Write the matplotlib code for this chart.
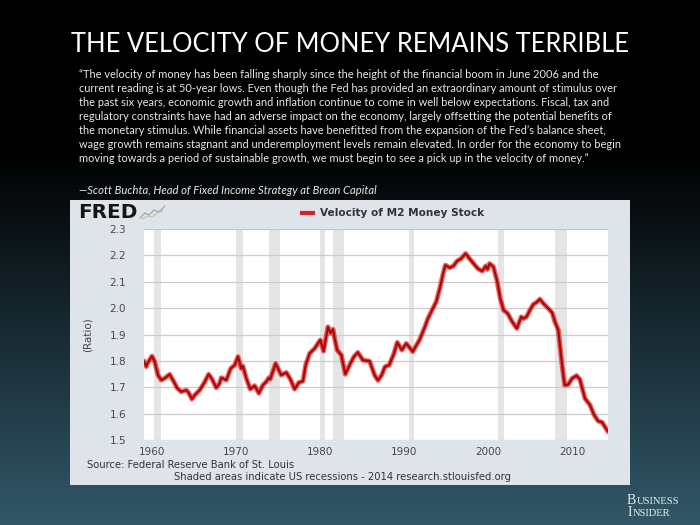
import numpy as np
import matplotlib
matplotlib.use('Agg')
import matplotlib.pyplot as plt
from matplotlib.transforms import Affine2D
from matplotlib.patches import Rectangle
from matplotlib.lines import Line2D

# ---------------- data ----------------
years = [1959.00, 1959.28, 1959.40, 1959.95, 1960.27, 1960.67, 1961.06, 1961.46, 1962.06, 1962.45,
         1962.97, 1963.44, 1964.04, 1964.30, 1964.71, 1965.03, 1965.63, 1966.14, 1966.70, 1967.10,
         1967.61, 1968.00, 1968.20, 1968.80, 1969.32, 1969.80, 1970.19, 1970.58, 1970.78, 1971.18,
         1971.65, 1972.17, 1972.68, 1973.15, 1973.56, 1973.87, 1974.03, 1974.67, 1975.35, 1975.94,
         1976.42, 1976.94, 1977.45, 1977.93, 1978.25, 1978.72, 1979.32, 1979.99, 1980.39, 1980.90,
         1981.20, 1981.50, 1981.70, 1982.00, 1982.50, 1982.97, 1983.48, 1984.00, 1984.46, 1985.06,
         1985.86, 1986.46, 1986.86, 1987.30, 1987.70, 1988.20, 1988.76, 1989.16, 1989.70, 1990.23,
         1991.00, 1991.80, 1992.40, 1992.80, 1993.40, 1993.80, 1994.27, 1994.67, 1994.90, 1995.40,
         1995.85, 1996.26, 1996.77, 1997.30, 1997.75, 1998.35, 1998.75, 1999.27, 1999.70, 1999.90,
         2000.15, 2000.60, 2001.02, 2001.42, 2001.82, 2002.30, 2002.85, 2003.40, 2003.92, 2004.15,
         2004.55, 2004.95, 2005.35, 2005.75, 2006.14, 2006.54, 2007.13, 2007.60, 2007.93, 2008.33,
         2008.65, 2008.93, 2009.10, 2009.50, 2009.99, 2010.50, 2010.90, 2011.50, 2012.10, 2012.60,
         2013.07, 2013.55, 2014.20]
velocity = [1.797, 1.778, 1.790, 1.818, 1.797, 1.746, 1.727, 1.734, 1.749, 1.727,
            1.696, 1.683, 1.689, 1.680, 1.655, 1.670, 1.689, 1.715, 1.749, 1.731,
            1.698, 1.715, 1.736, 1.727, 1.771, 1.784, 1.816, 1.771, 1.780, 1.734,
            1.693, 1.706, 1.677, 1.708, 1.721, 1.736, 1.731, 1.790, 1.746, 1.756,
            1.731, 1.693, 1.718, 1.723, 1.784, 1.828, 1.847, 1.879, 1.837, 1.929,
            1.905, 1.920, 1.885, 1.841, 1.822, 1.749, 1.784, 1.816, 1.832, 1.803,
            1.799, 1.746, 1.726, 1.746, 1.778, 1.784, 1.828, 1.870, 1.841, 1.866,
            1.835, 1.879, 1.925, 1.960, 1.999, 2.024, 2.081, 2.138, 2.163, 2.153,
            2.160, 2.178, 2.188, 2.207, 2.188, 2.165, 2.150, 2.140, 2.160, 2.147,
            2.169, 2.157, 2.106, 2.037, 1.992, 1.980, 1.948, 1.923, 1.967, 1.960,
            1.967, 1.992, 2.014, 2.022, 2.034, 2.018, 1.999, 1.983, 1.948, 1.917,
            1.822, 1.746, 1.708, 1.710, 1.734, 1.744, 1.730, 1.658, 1.633, 1.595,
            1.572, 1.567, 1.534]
recession_start = [1960.25, 1969.92, 1973.83, 1980.00, 1981.50, 1990.50, 2001.17, 2007.92]
recession_end = [1961.08, 1970.83, 1975.17, 1980.50, 1982.83, 1991.17, 2001.83, 2009.42]
x_ticks = [1960, 1970, 1980, 1990, 2000, 2010]
y_ticks = [1.5, 1.6, 1.7, 1.8, 1.9, 2.0, 2.1, 2.2, 2.3]

title = "THE VELOCITY OF MONEY REMAINS TERRIBLE"
quote_lines = [
    "\u201cThe velocity of money has been falling sharply since the height of the financial boom in June 2006 and the",
    "current reading is at 50-year lows. Even though the Fed has provided an extraordinary amount of stimulus over",
    "the past six years, economic growth and inflation continue to come in well below expectations. Fiscal, tax and",
    "regulatory constraints have had an adverse impact on the economy, largely offsetting the potential benefits of",
    "the monetary stimulus. While financial assets have benefitted from the expansion of the Fed\u2019s balance sheet,",
    "wage growth remains stagnant and underemployment levels remain elevated. In order for the economy to begin",
    "moving towards a period of sustainable growth, we must begin to see a pick up in the velocity of money.\u201d",
]
attribution = "\u2014Scott Buchta, Head of Fixed Income Strategy at Brean Capital"
series_name = "Velocity of M2 Money Stock"
source_text = "Source: Federal Reserve Bank of St. Louis"
note_text = "Shaded areas indicate US recessions - 2014 research.stlouisfed.org"

# ---------------- figure ----------------
W, H = 700, 525
fig = plt.figure(figsize=(7, 5.25), dpi=100)
px = Affine2D().scale(1 / W, -1 / H).translate(0, 1) + fig.transFigure
renderer = fig.canvas.get_renderer()


def fit(t, target):
    bb = t.get_window_extent(renderer)
    t.set_fontsize(t.get_fontsize() * target / bb.width)
    return t


# gradient background
bg = fig.add_axes([0, 0, 1, 1], zorder=-10)
rows = np.arange(H)
f = np.clip((rows - 150) / (H - 150), 0, 1)
bot = np.array([50, 88, 105]) / 255
grad = (f[:, None] * bot[None, :])[:, None, :] * np.ones((1, 2, 1))
bg.imshow(grad, aspect='auto', extent=[0, 1, 0, 1], origin='upper')
bg.axis('off')

# chart panel
fig.add_artist(Rectangle((70, 200), 560, 285, transform=px, facecolor='#dee4ea',
                         edgecolor='none', zorder=-5))

# title and quote
t = fig.text(350, 45, title, transform=px, ha='center', va='center', color='white',
             family='Lato', fontsize=20)
fit(t, 556)

qs = []
for i, line in enumerate(quote_lines):
    q = fig.text(79, 75 + 14 * i, line, transform=px, ha='left', va='center',
                 color='#e8e8e8', family='Lato', fontsize=9)
    qs.append(q)
bb = qs[5].get_window_extent(renderer)
qsize = 9 * 540 / bb.width
for q in qs:
    q.set_fontsize(qsize)

a = fig.text(79, 191, attribution, transform=px, ha='left', va='center', color='#e8e8e8',
             family='Lato', style='italic', fontsize=9)
fit(a, 297)

# FRED logo
fr = fig.text(78, 212, "FRED", transform=px, ha='left', va='center', color='#151515',
              family='DejaVu Sans', weight='heavy', fontsize=12)
fit(fr, 59)
fig.add_artist(Line2D([140, 145, 149, 154, 159, 165], [218, 213, 215, 210, 212, 206],
                      transform=px, color='#9aa48c', lw=0.8))
fig.add_artist(Line2D([142, 147, 152, 157, 163], [219, 216, 217, 213, 211],
                      transform=px, color='#b5bda9', lw=0.7))

# legend
fig.add_artist(Line2D([302, 313], [213, 213], transform=px, color='#d42424', lw=3))
lg = fig.text(320, 213, series_name, transform=px, ha='left', va='center', color='#333333',
              family='DejaVu Sans', weight='bold', fontsize=7)
fit(lg, 163)

# source texts
s1 = fig.text(87, 465, source_text, transform=px, ha='left', va='center', color='#333333',
              family='DejaVu Sans', fontsize=7)
fit(s1, 210)
s2 = fig.text(342, 477, note_text, transform=px, ha='center', va='center', color='#333333',
              family='DejaVu Sans', fontsize=7)
fit(s2, 339)

# y label
fig.text(88, 335, "(Ratio)", transform=px, ha='center', va='center', rotation=90,
         color='#444444', family='DejaVu Sans', fontsize=7.5)

# Business Insider logo (small caps)
def small_caps(x, y, word, big, small):
    t1 = fig.text(x, y, word[0], transform=px, ha='left', va='baseline', color='#e4ecef',
                  family='Liberation Serif', fontsize=big)
    w1 = t1.get_window_extent(renderer).width
    fig.text(x + w1 + 0.3, y, word[1:], transform=px, ha='left', va='baseline',
             color='#e4ecef', family='Liberation Serif', fontsize=small)

small_caps(627, 504, "BUSINESS", 10.0, 7.6)
small_caps(628, 516, "INSIDER", 10.0, 7.6)

# plot axes
left, right, top, bottom = 144, 608, 229, 440
ax = fig.add_axes([left / W, 1 - bottom / H, (right - left) / W, (bottom - top) / H])
ax.set_facecolor('white')
for sp in ax.spines.values():
    sp.set_visible(False)
for s, e in zip(recession_start, recession_end):
    ax.axvspan(s, e, color='#e5e5e5', lw=0, zorder=0.2)
ax.set_axisbelow(True)
ax.grid(axis='y', color='#cccccc', lw=0.9)
ax.plot(years, velocity, color='#ee1111', lw=3.6, alpha=0.65, solid_joinstyle='round', zorder=3)
ax.plot(years, velocity, color='#a30a0a', lw=1.6, solid_joinstyle='round', zorder=4)
ax.set_xlim(1959.0, 2014.25)
ax.set_ylim(1.5, 2.3)
ax.set_yticks(y_ticks)
ax.set_yticklabels([f"{v:.1f}" for v in y_ticks])
ax.set_xticks(x_ticks)
ax.set_xticklabels([str(v) for v in x_ticks])
ax.tick_params(length=0, labelsize=7.5, labelcolor='#484848')
ax.tick_params(axis='y', pad=13)
ax.tick_params(axis='x', pad=5)
ax.axhline(2.3, color='#b9c7d4', lw=1.2, zorder=2)

fig.savefig('out.png', dpi=100)
